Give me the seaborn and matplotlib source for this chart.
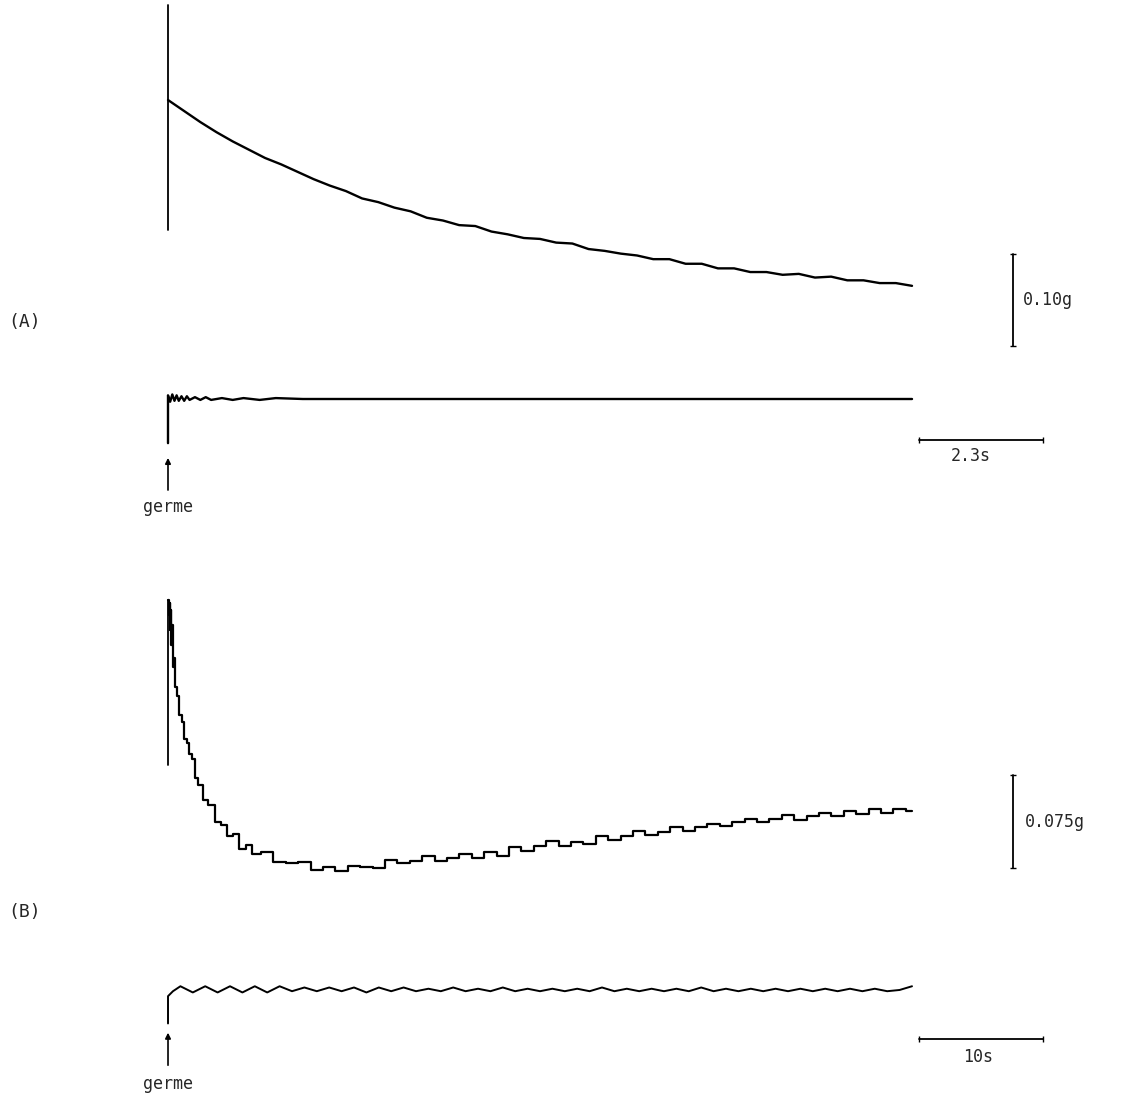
import matplotlib
matplotlib.use("Agg")
import matplotlib.pyplot as plt
import seaborn as sns

sns.set_style("white")
plt.rcParams['font.family'] = ['DejaVu Sans Mono', 'DejaVu Sans']

# ---------------- data (A) : time in s, tension in g ----------------
# main tension trace after the germ is added
tA = [0.0, 0.3, 0.6, 0.9, 1.2, 1.5, 1.8, 2.1, 2.4, 2.7, 3.0, 3.3, 3.6, 3.9,
      4.2, 4.5, 4.8, 5.1, 5.4, 5.7, 6.0, 6.3, 6.6, 6.9, 7.2, 7.5, 7.8, 8.1,
      8.4, 8.7, 9.0, 9.3, 9.6, 9.9, 10.2, 10.5, 10.8, 11.1, 11.4, 11.7,
      12.0, 12.3, 12.6, 12.9, 13.2, 13.5, 13.8]
gA = [0.325, 0.313, 0.301, 0.290, 0.280, 0.271, 0.262, 0.255, 0.247, 0.239,
      0.232, 0.226, 0.218, 0.214, 0.208, 0.204, 0.197, 0.194, 0.189, 0.188,
      0.182, 0.179, 0.175, 0.174, 0.170, 0.169, 0.163, 0.161, 0.158, 0.156,
      0.152, 0.152, 0.147, 0.147, 0.142, 0.142, 0.138, 0.138, 0.135, 0.136,
      0.132, 0.133, 0.129, 0.129, 0.126, 0.126, 0.123]
# pen stroke at t=0
spikeA_t = [0.0, 0.0]
spikeA_g = [0.184, 0.428]
# second channel (lower trace)
lowA_t = [0.0, 0.0, 0.04, 0.08, 0.12, 0.16, 0.2, 0.25, 0.3, 0.35, 0.4, 0.5,
          0.6, 0.7, 0.8, 1.0, 1.2, 1.4, 1.7, 2.0, 2.5, 3.0, 4.0, 5.0, 6.0,
          7.0, 8.0, 10.0, 12.0, 13.8]
lowA_g = [-0.048, 0.004, -0.003, 0.005, -0.002, 0.004, -0.002, 0.003, -0.002,
          0.003, -0.001, 0.002, -0.001, 0.002, -0.001, 0.001, -0.001, 0.001,
          -0.001, 0.001, 0.0, 0.0, 0.0, 0.0, 0.0, 0.0, 0.0, 0.0, 0.0, 0.0]

# ---------------- data (B) ----------------
tB = [0.0, 0.1, 0.15, 0.2, 0.25, 0.3, 0.35, 0.4, 0.5, 0.6, 0.8, 1.0, 1.2,
      1.4, 1.6, 1.8, 2.0, 2.3, 2.6, 3.0, 3.5, 4.0, 4.5, 5.0, 5.5, 6.0, 6.5,
      7, 8, 9, 10, 11, 12, 13, 14, 15, 16, 17, 18, 19, 20, 21, 22, 23, 24,
      25, 26, 27, 28, 29, 30, 31, 32, 33, 34, 35, 36, 37, 38, 39, 40, 41,
      42, 43, 44, 45, 46, 47, 48, 49, 50, 51, 52, 53, 54, 55, 56, 57, 58,
      59, 60]
gB = [0.314, 0.302, 0.312, 0.290, 0.306, 0.278, 0.294, 0.260, 0.268, 0.244,
      0.237, 0.222, 0.216, 0.202, 0.199, 0.190, 0.186, 0.171, 0.165, 0.153,
      0.149, 0.135, 0.133, 0.124, 0.126, 0.114, 0.117, 0.110,
      0.111, 0.103, 0.102, 0.103, 0.097, 0.099, 0.096, 0.100, 0.099, 0.098,
      0.105, 0.102, 0.104, 0.108, 0.104, 0.106, 0.110, 0.106, 0.111, 0.108,
      0.115, 0.112, 0.116, 0.120, 0.116, 0.119, 0.118, 0.124, 0.121, 0.124,
      0.128, 0.125, 0.127, 0.131, 0.128, 0.131, 0.134, 0.132, 0.135, 0.138,
      0.135, 0.138, 0.141, 0.137, 0.140, 0.143, 0.140, 0.144, 0.142, 0.146,
      0.143, 0.146, 0.144]
spikeB_t = [0.0, 0.0]
spikeB_g = [0.181, 0.314]
lowB_t = [0.0, 0.0, 0.4, 1, 2, 3, 4, 5, 6, 7, 8, 9, 10, 11, 12, 13, 14, 15,
          16, 17, 18, 19, 20, 21, 22, 23, 24, 25, 26, 27, 28, 29, 30, 31, 32,
          33, 34, 35, 36, 37, 38, 39, 40, 41, 42, 43, 44, 45, 46, 47, 48, 49,
          50, 51, 52, 53, 54, 55, 56, 57, 58, 59, 60]
lowB_g = [-0.027, -0.005, -0.001,
          0.003, -0.002, 0.003, -0.002, 0.003, -0.002, 0.003, -0.002, 0.003,
          -0.001, 0.002, -0.001, 0.002, -0.001, 0.002, -0.002, 0.002, -0.001,
          0.002, -0.001, 0.001, -0.001, 0.002, -0.001, 0.001, -0.001, 0.002,
          -0.001, 0.001, -0.001, 0.001, -0.001, 0.001, -0.001, 0.002, -0.001,
          0.001, -0.001, 0.001, -0.001, 0.001, -0.001, 0.002, -0.001, 0.001,
          -0.001, 0.001, -0.001, 0.001, -0.001, 0.001, -0.001, 0.001, -0.001,
          0.001, -0.001, 0.001, -0.001, 0.000, 0.003]

# scale bars
barA_time, barA_force = 2.3, 0.10
barB_time, barB_force = 10, 0.075

fig = plt.figure(figsize=(11.3, 11.01), dpi=100)
axA = fig.add_axes([0, 1 - 560 / 1101, 1, 560 / 1101])
axB = fig.add_axes([0, 0, 1, 541 / 1101])

ink = "black"


def trace(ax, t, g, lw=1.5, **kw):
    sns.lineplot(x=t, y=g, ax=ax, color=ink, lw=lw, estimator=None,
                 sort=False, legend=False, **kw)


# ---- panel A ----
trace(axA, spikeA_t, spikeA_g, lw=1.3)
trace(axA, tA, gA, lw=1.7)
trace(axA, lowA_t, lowA_g, lw=1.7)
axA.set_xlim(-3.116, 17.843)
axA.set_ylim(-0.175, 0.4337)

# scale bars A
axA.plot([13.93, 13.93 + barA_time], [-0.0446, -0.0446], color=ink, lw=1.3,
         marker="|", ms=4)
axA.text(14.89, -0.062, "2.3s", ha="center", va="center", fontsize=12)
axA.plot([15.67, 15.67], [0.0576, 0.0576 + barA_force], color=ink, lw=1.3,
         marker="_", ms=4)
axA.text(15.86, 0.1076, "0.10g", ha="left", va="center", fontsize=12)
axA.annotate("", xy=(0, -0.061), xytext=(0, -0.102),
             arrowprops=dict(arrowstyle="-|>", color=ink, lw=1.2,
                             mutation_scale=8))
axA.text(0, -0.1174, "germe", ha="center", va="center", fontsize=12)

# ---- panel B ----
trace(axB, spikeB_t, spikeB_g, lw=1.3)
trace(axB, tB, gB, lw=1.6, drawstyle="steps-mid")
trace(axB, lowB_t, lowB_g, lw=1.4)
axB.set_xlim(-13.549, 77.58)
axB.set_ylim(-0.0895, 0.3466)

axB.plot([60.57, 60.57 + barB_time], [-0.0395, -0.0395], color=ink, lw=1.3,
         marker="|", ms=4)
axB.text(65.33, -0.054, "10s", ha="center", va="center", fontsize=12)
axB.plot([68.15, 68.15], [0.0983, 0.0983 + barB_force], color=ink, lw=1.3,
         marker="_", ms=4)
axB.text(69.12, 0.1354, "0.075g", ha="left", va="center", fontsize=12)
axB.annotate("", xy=(0, -0.0322), xytext=(0, -0.0629),
             arrowprops=dict(arrowstyle="-|>", color=ink, lw=1.2,
                             mutation_scale=8))
axB.text(0, -0.0758, "germe", ha="center", va="center", fontsize=12)

for ax in (axA, axB):
    ax.axis("off")

fig.text(8 / 1130, 1 - 322 / 1101, "(A)", ha="left", va="center", fontsize=13)
fig.text(8 / 1130, 1 - 912 / 1101, "(B)", ha="left", va="center", fontsize=13)

fig.savefig("out.png", dpi=100, facecolor="white")
